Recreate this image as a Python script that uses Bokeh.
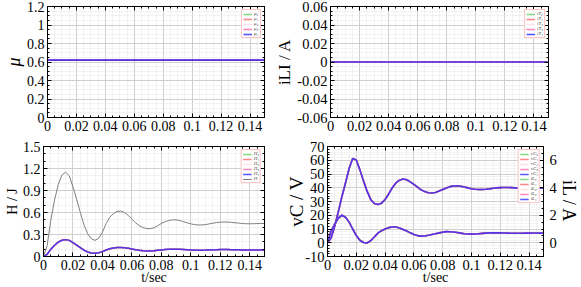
import math
from bokeh.plotting import figure
from bokeh.models import Range1d, LinearAxis, FixedTicker, CustomJSTickFormatter
from bokeh.layouts import column, row
from bokeh.embed import file_html
from bokeh.resources import INLINE

# ---------------- data ----------------
t = [0.0, 0.0025, 0.005, 0.0075, 0.01, 0.0125, 0.015, 0.0175, 0.02, 0.0225,
     0.025, 0.0275, 0.03, 0.0325, 0.035, 0.0375, 0.04, 0.0425, 0.045, 0.0475,
     0.05, 0.0525, 0.055, 0.0575, 0.06, 0.0625, 0.065, 0.0675, 0.07, 0.0725,
     0.075, 0.0775, 0.08, 0.0825, 0.085, 0.0875, 0.09, 0.0925, 0.095, 0.0975,
     0.1, 0.1025, 0.105, 0.1075, 0.11, 0.1125, 0.115, 0.1175, 0.12, 0.1225,
     0.125, 0.1275, 0.13, 0.1325, 0.135, 0.1375, 0.14, 0.1425, 0.145, 0.1475,
     0.15]

t_span = [0.0, 0.15]
mu_levels = [0.62, 0.62, 0.62, 0.62, 0.62]          # mu_0 .. mu_4
iT_levels = [0.0, 0.0, 0.0, 0.0, 0.0]               # i_T0 .. i_T4

vC = [0, 3.5, 12, 22.5, 33.5, 43.5, 54, 61.2, 60.2, 53,
      45, 37.5, 31.5, 28.5, 27.8, 28.8, 31.5, 35.5, 40, 43.5,
      45.5, 46.3, 45.8, 44.3, 42.5, 40.5, 38.5, 37.2, 36.4, 36.2,
      36.6, 37.6, 38.8, 39.9, 40.8, 41.3, 41.4, 41.1, 40.5, 39.9,
      39.3, 38.9, 38.7, 38.7, 38.9, 39.2, 39.6, 39.9, 40.1, 40.2,
      40.2, 40.1, 39.9, 39.7, 39.6, 39.5, 39.5, 39.6, 39.7, 39.7,
      39.7]

iL = [0, 0.85, 1.35, 1.8, 2.0, 1.85, 1.5, 1.0, 0.52, 0.18,
      0.02, -0.02, 0.15, 0.42, 0.7, 0.88, 1.0, 1.1, 1.14, 1.15,
      1.08, 0.97, 0.85, 0.72, 0.6, 0.52, 0.48, 0.49, 0.54, 0.6,
      0.66, 0.72, 0.77, 0.81, 0.8, 0.78, 0.74, 0.7, 0.66, 0.64,
      0.63, 0.64, 0.66, 0.68, 0.7, 0.715, 0.72, 0.72, 0.715, 0.705,
      0.7, 0.695, 0.69, 0.69, 0.695, 0.7, 0.7, 0.705, 0.705, 0.7,
      0.7]

H_total = [0, 0.15, 0.5, 0.77, 0.98, 1.11, 1.15, 1.10, 0.95, 0.78,
           0.6, 0.43, 0.31, 0.24, 0.22, 0.25, 0.33, 0.45, 0.535, 0.585,
           0.615, 0.62, 0.6, 0.56, 0.51, 0.46, 0.42, 0.395, 0.38, 0.38,
           0.39, 0.42, 0.45, 0.475, 0.49, 0.5, 0.5, 0.49, 0.475, 0.46,
           0.445, 0.435, 0.43, 0.43, 0.435, 0.445, 0.455, 0.462, 0.468, 0.47,
           0.47, 0.466, 0.46, 0.455, 0.45, 0.447, 0.446, 0.447, 0.449, 0.45,
           0.45]

H_sub = [0, 0.03, 0.1, 0.154, 0.196, 0.222, 0.23, 0.22, 0.19, 0.156,
         0.12, 0.086, 0.062, 0.048, 0.044, 0.05, 0.066, 0.088, 0.106, 0.116,
         0.123, 0.124, 0.12, 0.112, 0.102, 0.092, 0.084, 0.079, 0.076, 0.076,
         0.078, 0.084, 0.09, 0.095, 0.098, 0.1, 0.1, 0.098, 0.095, 0.092,
         0.089, 0.087, 0.086, 0.086, 0.087, 0.089, 0.091, 0.092, 0.094, 0.094,
         0.094, 0.093, 0.092, 0.091, 0.09, 0.089, 0.089, 0.089, 0.09, 0.09,
         0.09]

mu_labels = ["μ₀", "μ₁", "μ₂", "μ₃", "μ₄"]
iT_labels = ["iT₀", "iT₁", "iT₂", "iT₃", "iT₄"]
H_labels = ["H₀", "H₁", "H₂", "H₃", "H₄"]
vC_labels = ["vC₀", "vC₁", "vC₂", "vC₃", "vC₄"]
iL_labels = ["iL₀", "iL₁", "iL₂", "iL₃", "iL₄"]

# tick values
x_ticks = [0, 0.02, 0.04, 0.06, 0.08, 0.1, 0.12, 0.14]
mu_ticks = [0, 0.2, 0.4, 0.6, 0.8, 1.0, 1.2]
iT_ticks = [-0.06, -0.04, -0.02, 0, 0.02, 0.04, 0.06]
H_ticks = [0, 0.3, 0.6, 0.9, 1.2, 1.5]
vC_ticks = [-10, 0, 10, 20, 30, 40, 50, 60, 70]
iL_ticks = [0, 2, 4, 6]

# ---------------- styling ----------------
SERIF = "Liberation Serif"
SUB_COLORS = ["#22bb22", "#ff2222", "#ffc8d8", "#ff2288", "#2a2aff"]
SUB_ALPHAS = [0.55, 0.55, 0.55, 0.55, 0.8]
FMT = "return (+tick.toFixed(4)).toString();"


def minor(lo, hi, step):
    n = int(round((hi - lo) / step))
    return [round(lo + i * step, 6) for i in range(n + 1)]


def style_axis(ax, fs="14px", standoff=3):
    ax.major_tick_in = 4
    ax.major_tick_out = 0
    ax.minor_tick_in = 2
    ax.minor_tick_out = 0
    ax.axis_line_color = "black"
    ax.major_tick_line_color = "black"
    ax.minor_tick_line_color = "black"
    ax.major_label_text_font = SERIF
    ax.major_label_text_font_size = fs
    ax.major_label_text_color = "black"
    ax.major_label_standoff = standoff
    ax.axis_label_text_font = SERIF
    ax.axis_label_text_color = "black"
    ax.axis_label_text_font_style = "normal"
    ax.axis_label_standoff = 0


def make_fig(w, h, bl, br, bt, bb, yr, yticks, ystep, right_dummy=True, fs="14px"):
    p = figure(width=w, height=h, x_range=Range1d(0, 0.15), y_range=Range1d(*yr),
               min_border_left=bl, min_border_right=br, min_border_top=bt, min_border_bottom=bb,
               output_backend="svg", toolbar_location=None)
    p.background_fill_color = "white"
    p.border_fill_color = "white"
    p.outline_line_color = "black"
    xt = FixedTicker(ticks=x_ticks, minor_ticks=minor(0, 0.15, 0.005))
    yt = FixedTicker(ticks=yticks, minor_ticks=minor(yr[0], yr[1], ystep))
    p.xaxis.ticker = xt
    p.yaxis.ticker = yt
    p.xgrid.ticker = xt
    p.ygrid.ticker = yt
    p.xaxis.formatter = CustomJSTickFormatter(code=FMT)
    p.yaxis.formatter = CustomJSTickFormatter(code=FMT)
    for ax in p.xaxis + p.yaxis:
        style_axis(ax, fs)
    for g in (p.xgrid, p.ygrid):
        g.grid_line_color = "#cfcfcf"
        g.grid_line_width = 1
        g.minor_grid_line_color = "#e6e6e6"
        g.minor_grid_line_dash = "1 1"
    top = LinearAxis(ticker=xt, formatter=CustomJSTickFormatter(code="return '';"))
    style_axis(top, "1px", 0)
    p.add_layout(top, "above")
    if right_dummy:
        rt = LinearAxis(ticker=yt, formatter=CustomJSTickFormatter(code="return '';"))
        style_axis(rt, "1px", 0)
        p.add_layout(rt, "right")
    return p


def bottom_axis(p):
    return [a for a in p.below if isinstance(a, LinearAxis)][0]


def left_axis(p):
    return [a for a in p.left if isinstance(a, LinearAxis)][0]


def style_legend(p):
    lg = p.legend[0]
    lg.location = "top_right"
    lg.margin = 3
    lg.padding = 1
    lg.spacing = 0
    lg.label_height = 4
    lg.label_width = 5
    lg.glyph_height = 4
    lg.glyph_width = 9
    lg.label_standoff = 2
    lg.label_text_font = SERIF
    lg.label_text_font_style = "italic"
    lg.label_text_font_size = "5px"
    lg.label_text_line_height = 1.0
    lg.border_line_color = "#ff8a8a"
    lg.border_line_width = 1.3
    lg.background_fill_color = "white"
    lg.background_fill_alpha = 1.0


# ---------------- top-left: mu ----------------
p1 = make_fig(272, 140, 43, 8, 6, 23, (0, 1.2), mu_ticks, 0.05)
for lvl, lab, c, a in zip(mu_levels, mu_labels, SUB_COLORS, SUB_ALPHAS):
    p1.line(t_span, [lvl, lvl], line_color=c, line_alpha=a, line_width=1.6, legend_label=lab)
style_legend(p1)
ax = left_axis(p1)
ax.axis_label = "μ"
ax.axis_label_text_font_size = "18px"
ax.axis_label_text_font_style = "italic"

# ---------------- top-right: i_T ----------------
p2 = make_fig(309, 140, 55, 33, 6, 23, (-0.06, 0.06), iT_ticks, 0.005, fs="14.5px")
for lvl, lab, c, a in zip(iT_levels, iT_labels, SUB_COLORS, SUB_ALPHAS):
    p2.line(t_span, [lvl, lvl], line_color=c, line_alpha=a, line_width=1.6, legend_label=lab)
style_legend(p2)
ax = left_axis(p2)
ax.axis_label = "iLI / A"
ax.axis_label_text_font_size = "17px"

# ---------------- bottom-left: H ----------------
p3 = make_fig(282, 147, 43, 18, 6, 27, (0, 1.5), H_ticks, 0.1)
for lab, c, a in zip(H_labels, SUB_COLORS, SUB_ALPHAS):
    p3.line(t, H_sub, line_color=c, line_alpha=a, line_width=1.5, legend_label=lab)
p3.line(t, H_total, line_color="#7f7f7f", line_width=1.0, legend_label="H")
style_legend(p3)
ax = left_axis(p3)
ax.axis_label = "H / J"
ax.axis_label_text_font_size = "14px"
ax = bottom_axis(p3)
ax.axis_label = "t/sec"
ax.axis_label_text_font_size = "14px"
ax.axis_label_standoff = -3

# ---------------- bottom-right: vC and iL ----------------
p4 = make_fig(299, 147, 45, 33, 6, 27, (-10, 70), vC_ticks, 2, right_dummy=False, fs="14.5px")
p4.extra_y_ranges = {"iL": Range1d(-1, 7)}
ra = LinearAxis(y_range_name="iL", ticker=FixedTicker(ticks=iL_ticks, minor_ticks=minor(-1, 7, 0.5)),
                formatter=CustomJSTickFormatter(code=FMT))
style_axis(ra, "14.5px", 6)
ra.axis_label = "iL / A"
ra.axis_label_text_font_size = "18px"
ra.axis_label_standoff = -1
p4.add_layout(ra, "right")
for lab, c, a in zip(vC_labels, SUB_COLORS, SUB_ALPHAS):
    p4.line(t, vC, line_color=c, line_alpha=a, line_width=1.6, legend_label=lab)
for lab, c, a in zip(iL_labels, SUB_COLORS, SUB_ALPHAS):
    p4.line(t, iL, line_color=c, line_alpha=a, line_width=1.6, legend_label=lab,
            y_range_name="iL")
style_legend(p4)
ax = left_axis(p4)
ax.axis_label = "vC / V"
ax.axis_label_text_font_size = "19px"
ax.axis_label_standoff = -5
ax = bottom_axis(p4)
ax.axis_label = "t/sec"
ax.axis_label_text_font_size = "14px"
ax.axis_label_standoff = -3

layout = column(row(p1, p2), row(p3, p4))

html = file_html(layout, INLINE)
html = html.replace("<head>", "<head><style>html,body{margin:0;padding:0;}</style>", 1)
open("out.html", "w").write(html)
